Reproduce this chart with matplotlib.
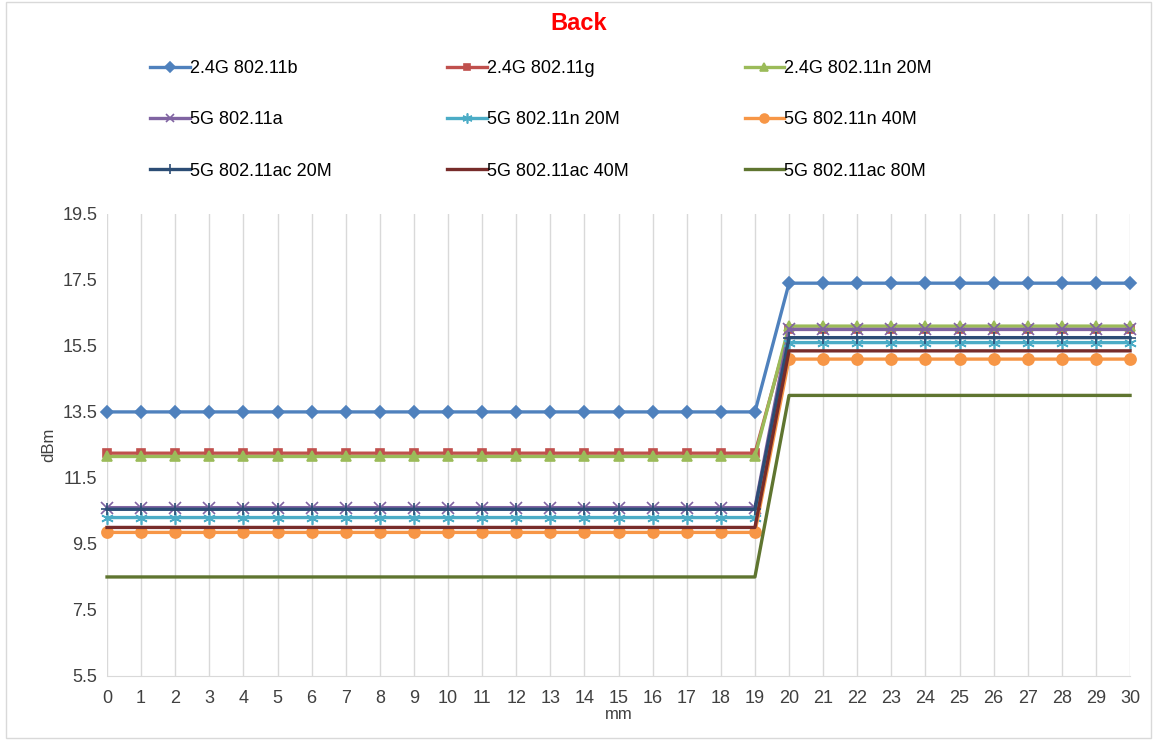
import matplotlib

matplotlib.use("Agg")
import matplotlib.pyplot as plt
from matplotlib.patches import Rectangle

plt.rcParams["font.family"] = ["Liberation Sans", "DejaVu Sans"]

# Distance in mm, 0..30
mm = list(range(31))

# Level before (0-19 mm) and after (20-30 mm) for each mode, dBm
series_names = [
    "2.4G 802.11b", "2.4G 802.11g", "2.4G 802.11n 20M",
    "5G 802.11a", "5G 802.11n 20M", "5G 802.11n 40M",
    "5G 802.11ac 20M", "5G 802.11ac 40M", "5G 802.11ac 80M",
]
low_level = [13.5, 12.25, 12.15, 10.6, 10.3, 9.85, 10.55, 10.0, 8.5]
high_level = [17.4, 16.0, 16.1, 16.0, 15.6, 15.1, 15.75, 15.35, 14.0]

colors = ["#4F81BD", "#C0504D", "#9BBB59", "#8064A2", "#4BACC6",
          "#F79646", "#2C4D75", "#772C2A", "#5F7530"]
markers = ["D", "s", "^", "x", (6, 2, 0), "o", "+", None, None]
msizes = [6, 6, 7, 8, 9, 8, 9, 0, 0]

fig = plt.figure(figsize=(11.57, 7.40), dpi=100)
ax = fig.add_axes([0.0925, 0.0865, 0.8842, 0.6245])

handles = []
for i, name in enumerate(series_names):
    ys = [low_level[i] if x < 20 else high_level[i] for x in mm]
    (h,) = ax.plot(mm, ys, color=colors[i], lw=2.4, marker=markers[i],
                   markersize=msizes[i], markeredgewidth=1.2,
                   label=name, clip_on=False)
    handles.append(h)

ax.set_xlim(0, 30)
ax.set_ylim(5.5, 19.5)
ax.set_xticks(mm)
ax.set_yticks([5.5, 7.5, 9.5, 11.5, 13.5, 15.5, 17.5, 19.5])
ax.set_yticklabels(["5.5", "7.5", "9.5", "11.5", "13.5", "15.5", "17.5", "19.5"])
ax.tick_params(length=0, labelsize=13, colors="#404040", pad=7)
ax.tick_params(axis="x", pad=10)
ax.grid(True, axis="x", color="#D9D9D9", lw=1)
ax.set_axisbelow(True)
for side in ["top", "right", "left"]:
    ax.spines[side].set_visible(False)
ax.spines["bottom"].set_color("#D9D9D9")
ax.set_xlabel("mm", fontsize=12, color="#404040", labelpad=0)
ax.set_ylabel("dBm", fontsize=12, color="#404040", labelpad=4)

fig.text(0.5, 0.968, "Back", ha="center", va="center", color="red",
         fontsize=17, fontweight="bold")

# legend is row-major in the reference, so reorder for column-first fill
order = [0, 3, 6, 1, 4, 7, 2, 5, 8]
fig.legend([handles[k] for k in order], [series_names[k] for k in order],
           ncol=3, loc="upper left", bbox_to_anchor=(0.116, 0.941),
           frameon=False, fontsize=13, handlelength=2.2, handletextpad=0.0,
           columnspacing=6.4, labelspacing=1.9, markerscale=0.8)

fig.patches.append(Rectangle((0.005, 0.003), 0.99, 0.994, transform=fig.transFigure,
                             fill=False, edgecolor="#D9D9D9", lw=1))

fig.savefig("out.png", dpi=100)
